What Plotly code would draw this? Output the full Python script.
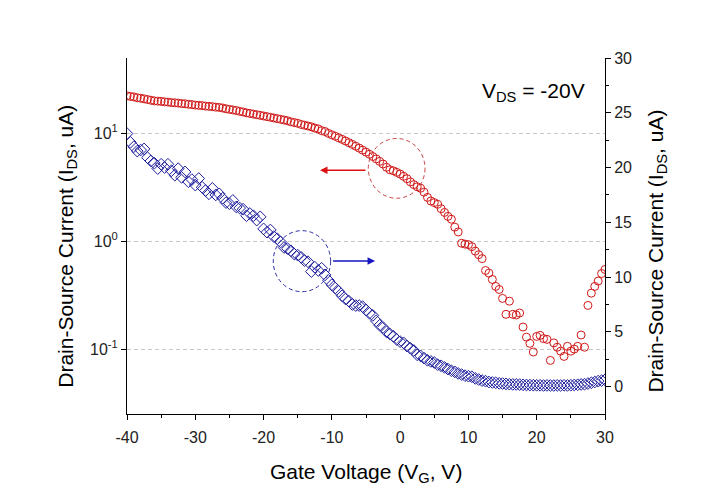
import plotly.graph_objects as go
import math

# Gate voltage sweep (V)
gate_v = [
    -40.0, -39.5, -39.0, -38.5, -38.0, -37.5, -37.0, -36.5, -36.0, -35.5,
    -35.0, -34.5, -34.0, -33.5, -33.0, -32.5, -32.0, -31.5, -31.0, -30.5,
    -30.0, -29.5, -29.0, -28.5, -28.0, -27.5, -27.0, -26.5, -26.0, -25.5,
    -25.0, -24.5, -24.0, -23.5, -23.0, -22.5, -22.0, -21.5, -21.0, -20.5,
    -20.0, -19.5, -19.0, -18.5, -18.0, -17.5, -17.0, -16.5, -16.0, -15.5,
    -15.0, -14.5, -14.0, -13.5, -13.0, -12.5, -12.0, -11.5, -11.0, -10.5,
    -10.0, -9.5, -9.0, -8.5, -8.0, -7.5, -7.0, -6.5, -6.0, -5.5,
    -5.0, -4.5, -4.0, -3.5, -3.0, -2.5, -2.0, -1.5, -1.0, -0.5,
    0.0, 0.5, 1.0, 1.5, 2.0, 2.5, 3.0, 3.5, 4.0, 4.5,
    5.0, 5.5, 6.0, 6.5, 7.0, 7.5, 8.0, 8.5, 9.0, 9.5,
    10.0, 10.5, 11.0, 11.5, 12.0, 12.5, 13.0, 13.5, 14.0, 14.5,
    15.0, 15.5, 16.0, 16.5, 17.0, 17.5, 18.0, 18.5, 19.0, 19.5,
    20.0, 20.5, 21.0, 21.5, 22.0, 22.5, 23.0, 23.5, 24.0, 24.5,
    25.0, 25.5, 26.0, 26.5, 27.0, 27.5, 28.0, 28.5, 29.0, 29.5,
    30.0,
]

# Drain-source current on log scale (left axis, uA) - red circles
ids_log = [
    22.3, 22.0, 21.8, 21.4, 21.2, 20.9, 20.6, 20.3,
    20.0, 19.9, 19.8, 19.6, 19.5, 19.3, 19.2, 19.1, 18.9, 18.8,
    18.6, 18.5, 18.3, 18.2, 18.1, 17.9, 17.8, 17.7, 17.5, 17.4,
    17.2, 16.9, 16.7, 16.5, 16.3, 16.0, 15.8, 15.5, 15.3,
    15.1, 14.9, 14.7, 14.5, 14.3, 14.1, 13.9, 13.7, 13.5, 13.3, 13.1,
    12.8, 12.6, 12.4, 12.1, 11.9, 11.7, 11.5, 11.2, 11.0,
    10.6, 10.4, 10.0, 9.7, 9.4, 9.1, 8.8, 8.5, 8.2, 7.9,
    7.6, 7.3, 7.0, 6.7, 6.4,
    6.1, 5.8, 5.5, 5.2, 4.85,
    4.6, 4.5, 4.35, 4.2,
    4.0, 3.8, 3.55, 3.35, 3.2,
    3.1, 2.85, 2.55, 2.36, 2.28,
    2.2, 2.0, 1.85, 1.7, 1.6,
    1.35, 1.22,
    0.958, 0.94, 0.93, 0.89, 0.81, 0.75, 0.69,
    0.535, 0.506, 0.442, 0.381, 0.357, 0.295,
    0.210, 0.278, 0.210, 0.207, 0.216, 0.160, 0.129, 0.113, 0.094, 0.131,
    0.134, 0.125, 0.123, 0.0785, 0.114, 0.104, 0.0957, 0.0855, 0.106, 0.0957,
    0.100, 0.106, 0.135, 0.104, 0.254, 0.330, 0.381, 0.427, 0.502, 0.547,
]

# Drain-source current on linear scale (right axis, uA) - blue diamonds
ids_lin = [
    23.1, 22.3, 21.9, 21.5, 21.6, 21.7, 20.9, 20.6, 20.4, 19.9,
    20.3, 20.0, 20.3, 19.7, 19.3, 19.9, 19.1, 19.6, 18.7, 18.9,
    18.4, 19.0, 18.2, 17.9, 17.6, 18.1, 17.5, 17.6, 17.2, 16.8,
    16.7, 17.0, 16.4, 16.3, 16.2,
    15.6, 15.8, 15.6, 15.2, 15.5, 14.4, 14.1, 14.3, 13.7, 13.5,
    13.2, 12.7, 12.6, 12.4, 12.1, 12.0, 11.8, 11.5, 11.4, 10.5,
    10.9, 10.6, 10.8, 10.2, 9.7, 9.3, 9.0, 8.7, 8.3, 8.0,
    7.8, 7.5, 7.4, 7.4, 7.3, 7.0, 6.7, 6.5, 6.0, 5.6,
    5.4, 5.0, 4.8, 4.6, 4.3, 4.1, 4.0, 3.7, 3.5, 3.3,
    2.9, 2.8, 2.6, 2.4, 2.3, 2.2, 2.0, 1.9, 1.75, 1.6,
    1.45, 1.35, 1.2, 1.1, 1.0, 0.95, 0.9, 0.75, 0.65, 0.55,
    0.5, 0.42, 0.38, 0.35, 0.3, 0.28, 0.25, 0.22, 0.2, 0.2,
    0.18, 0.16, 0.15, 0.14, 0.13, 0.12, 0.12, 0.1, 0.11, 0.1,
    0.1, 0.11, 0.1, 0.12, 0.11, 0.13, 0.15, 0.17, 0.2, 0.22,
    0.28, 0.35, 0.42, 0.5, 0.55, 0.62,
]

# Tick definitions
x_ticks = [-40, -30, -20, -10, 0, 10, 20, 30]
x_tick_labels = ["-40", "-30", "-20", "-10", "0", "10", "20", "30"]
x_minor_ticks = [-35, -25, -15, -5, 5, 15, 25]
log_ticks = [0.1, 1, 10]
log_tick_labels = ["10<sup>-1</sup>", "10<sup>0</sup>", "10<sup>1</sup>"]
log_minor_ticks = [0.03, 0.04, 0.05, 0.06, 0.07, 0.08, 0.09,
                   0.2, 0.3, 0.4, 0.5, 0.6, 0.7, 0.8, 0.9,
                   2, 3, 4, 5, 6, 7, 8, 9, 20, 30, 40]
lin_ticks = [0, 5, 10, 15, 20, 25, 30]
lin_minor_ticks = [2.5, 7.5, 12.5, 17.5, 22.5, 27.5]
log_range = [0.025, 50]
lin_range = [-2.5, 30]
x_range = [-40, 30]

FONT = "Arial, Liberation Sans, sans-serif"
RED = "#d01818"
BLUE = "#1c1c9c"

fig = go.Figure()
fig.add_trace(go.Scatter(
    x=gate_v, y=ids_lin, xaxis="x", yaxis="y2", mode="markers",
    marker=dict(symbol="diamond-open", size=9, color=BLUE, line=dict(width=1)),
    showlegend=False, hoverinfo="skip"))
fig.add_trace(go.Scatter(
    x=gate_v, y=ids_log, xaxis="x", yaxis="y", mode="markers",
    marker=dict(symbol="circle-open", size=8, color=RED, line=dict(width=1)),
    showlegend=False, hoverinfo="skip"))

lr = [math.log10(v) for v in log_range]
tickfont = dict(family=FONT, size=16, color="#222")

# page body has an 8px default margin, so the figure is sized/offset to compensate
fig.update_layout(
    width=694, height=488,
    margin=dict(l=119, r=97, t=50, b=82),
    paper_bgcolor="white", plot_bgcolor="white",
    font=dict(family=FONT, color="black"),
    showlegend=False,
    xaxis=dict(range=x_range, tickmode="array", tickvals=x_ticks, ticktext=x_tick_labels,
               ticks="outside", ticklen=5, tickcolor="black", showline=True, linecolor="black",
               linewidth=1, showgrid=False, zeroline=False, tickfont=tickfont,
               ticklabelstandoff=4,
               minor=dict(tickmode="array", tickvals=x_minor_ticks, ticks="outside",
                          ticklen=3, tickcolor="black", showgrid=False)),
    xaxis2=dict(range=x_range, overlaying="x", side="top", anchor="y", tickmode="linear",
                tick0=-40, dtick=5, ticks="inside", ticklen=4, tickcolor="black",
                showticklabels=False, showline=True, linecolor="black", linewidth=1,
                showgrid=False, zeroline=False),
    yaxis=dict(type="log", range=lr, tickmode="array", tickvals=log_ticks,
               ticktext=log_tick_labels, ticks="outside", ticklen=5, tickcolor="black",
               showline=True, linecolor="black", linewidth=1, zeroline=False,
               showgrid=True, gridcolor="#c8c8c8", griddash="4px,3px", gridwidth=1,
               tickfont=tickfont),
    yaxis3=dict(type="log", range=lr, overlaying="y", side="left", anchor="x",
                tickmode="array", tickvals=log_minor_ticks, ticks="outside", ticklen=3,
                tickcolor="black", showticklabels=False, showline=False, showgrid=False,
                zeroline=False),
    yaxis2=dict(range=lin_range, overlaying="y", side="right", anchor="x",
                tickmode="array", tickvals=lin_ticks, ticks="outside", ticklen=5,
                tickcolor="black", showline=True, linecolor="black", linewidth=1,
                showgrid=False, zeroline=False, tickfont=tickfont,
                minor=dict(tickmode="array", tickvals=lin_minor_ticks, ticks="outside",
                           ticklen=3, tickcolor="black", showgrid=False)),
)

title_font = dict(family=FONT, size=21, color="black")
fig.add_annotation(text="Drain-Source Current (I<sub>DS</sub>, uA)", textangle=-90,
                   xref="paper", yref="paper", x=-0.126, y=0.472,
                   xanchor="center", yanchor="middle", showarrow=False, font=title_font)
fig.add_annotation(text="Drain-Source Current (I<sub>DS</sub>, uA)", textangle=-90,
                   xref="paper", yref="paper", x=1.108, y=0.458,
                   xanchor="center", yanchor="middle", showarrow=False, font=title_font)
fig.add_annotation(text="Gate Voltage (V<sub>G</sub>, V)",
                   xref="paper", yref="paper", x=0.5, y=-0.166,
                   xanchor="center", yanchor="middle", showarrow=False, font=title_font)
fig.add_annotation(text="V<sub>DS</sub> = -20V",
                   xref="paper", yref="paper", x=0.962, y=0.905,
                   xanchor="right", yanchor="middle", showarrow=False, font=title_font)

# arrows
fig.add_annotation(x=0.4038, y=0.685, ax=0.502, ay=0.685,
                   xref="x domain", yref="y domain", axref="x domain", ayref="y domain",
                   text="", showarrow=True, arrowhead=2, arrowsize=1.0, arrowwidth=1.5,
                   arrowcolor="#dd1111")
fig.add_annotation(x=0.519, y=0.430, ax=0.428, ay=0.430,
                   xref="x domain", yref="y domain", axref="x domain", ayref="y domain",
                   text="", showarrow=True, arrowhead=2, arrowsize=1.0, arrowwidth=1.5,
                   arrowcolor="#1515c0")

# dashed circles
fig.add_shape(type="circle", xref="paper", yref="paper",
              x0=0.5048, x1=0.6234, y0=0.606, y1=0.774,
              line=dict(color="#c84040", width=1, dash="4px,3px"))
fig.add_shape(type="circle", xref="paper", yref="paper",
              x0=0.306, x1=0.426, y0=0.3435, y1=0.515,
              line=dict(color="#2a2aa0", width=1, dash="4px,3px"))

fig.write_html("out.html")
